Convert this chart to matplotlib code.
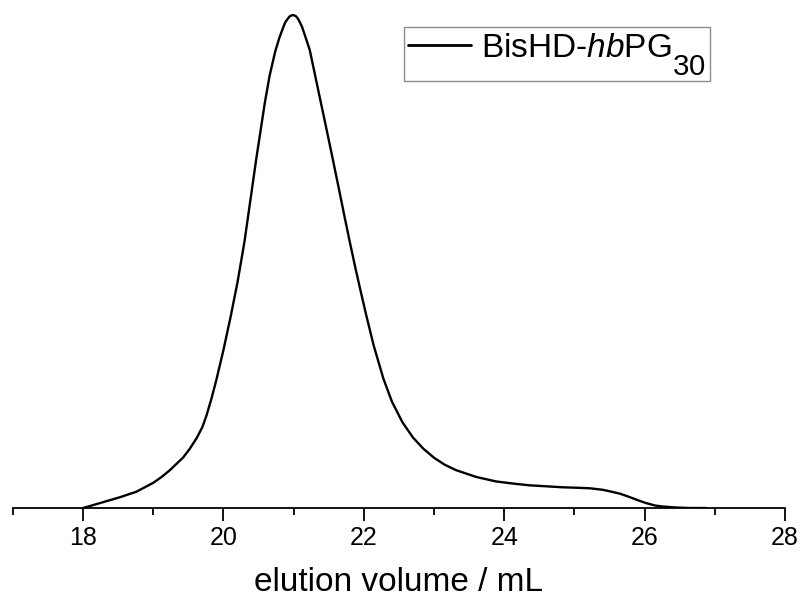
import matplotlib
matplotlib.use("Agg")
import matplotlib.pyplot as plt
from matplotlib.ticker import MultipleLocator

try:
    import matplotlib._mathtext as _mt
    _mt.SHRINK_FACTOR = 0.88
    _mt.FontConstantsBase.subdrop = 1.0
    _mt.FontConstantsBase.sub1 = 1.0
    _mt.FontConstantsBase.sub2 = 1.0
except Exception:
    pass

plt.rcParams['font.family'] = ['Liberation Sans', 'DejaVu Sans']
plt.rcParams['mathtext.fontset'] = 'custom'
plt.rcParams['mathtext.rm'] = 'Liberation Sans'
plt.rcParams['mathtext.it'] = 'Liberation Sans:italic'
plt.rcParams['mathtext.bf'] = 'Liberation Sans:bold'

# elution volume (mL) and normalized detector signal
volume = [18.00, 18.10, 18.29, 18.53, 18.76, 19.00, 19.12, 19.24, 19.43, 19.52,
          19.62, 19.70, 19.76, 19.83, 19.90, 20.00, 20.10, 20.20, 20.30, 20.40,
          20.47, 20.54, 20.59, 20.66, 20.74, 20.80, 20.85, 20.88, 20.92, 20.95,
          20.99, 21.03, 21.06, 21.09, 21.12, 21.17, 21.23, 21.30, 21.38, 21.45,
          21.54, 21.64, 21.73, 21.80, 21.88, 21.95, 22.04, 22.14, 22.28, 22.40,
          22.55, 22.70, 22.85, 23.00, 23.15, 23.31, 23.60, 23.88, 24.10, 24.36,
          24.60, 24.83, 25.05, 25.22, 25.40, 25.50, 25.65, 25.79, 25.90, 26.02,
          26.15, 26.26, 26.45, 26.64, 26.88]
signal = [0.000, 0.004, 0.012, 0.022, 0.033, 0.051, 0.063, 0.077, 0.103, 0.120,
          0.142, 0.164, 0.188, 0.222, 0.260, 0.320, 0.386, 0.457, 0.540, 0.640,
          0.710, 0.775, 0.822, 0.878, 0.927, 0.955, 0.974, 0.985, 0.993, 0.998,
          1.000, 0.998, 0.993, 0.985, 0.976, 0.955, 0.929, 0.882, 0.828, 0.781,
          0.720, 0.651, 0.588, 0.540, 0.487, 0.443, 0.388, 0.330, 0.262, 0.216,
          0.174, 0.143, 0.120, 0.102, 0.088, 0.077, 0.063, 0.054, 0.050, 0.046,
          0.044, 0.042, 0.041, 0.040, 0.037, 0.034, 0.029, 0.022, 0.016, 0.010,
          0.005, 0.003, 0.001, 0.000, 0.000]
series_label = r'BisHD-$\it{hb}$PG$_{30}$'
x_ticks = [18, 20, 22, 24, 26, 28]

fig = plt.figure(figsize=(8.04, 6.02), dpi=100)
ax = fig.add_axes([12.8 / 804, 94 / 602, 772.2 / 804, 508 / 602])
ax.plot(volume, signal, color='black', lw=1.7, label=series_label,
        solid_joinstyle='round', solid_capstyle='round')

ax.set_xlim(17, 28)
ax.set_ylim(0, 508 / 493)
ax.set_xticks(x_ticks)
ax.set_xticklabels([str(t) for t in x_ticks])
ax.xaxis.set_minor_locator(MultipleLocator(1))
ax.set_yticks([])
for s in ['top', 'right', 'left']:
    ax.spines[s].set_visible(False)
ax.spines['bottom'].set_linewidth(1.3)
ax.tick_params(axis='x', which='major', direction='out', length=9, width=1.3,
               labelsize=18, pad=4)
ax.tick_params(axis='x', which='minor', direction='out', length=5, width=1.3)
ax.set_xlabel('elution volume / mL', fontsize=24, labelpad=12)

leg = ax.legend(loc='upper left', bbox_to_anchor=(404 / 804, 1 - 27 / 602),
                bbox_transform=fig.transFigure, borderaxespad=0,
                fontsize=24, frameon=True, fancybox=False, handlelength=1.9,
                handletextpad=0.3, borderpad=0.12)
leg.get_frame().set_edgecolor('#707070')
leg.get_frame().set_linewidth(1.0)
for l in leg.get_lines():
    l.set_linewidth(2.0)

fig.savefig('out.png', dpi=100)
